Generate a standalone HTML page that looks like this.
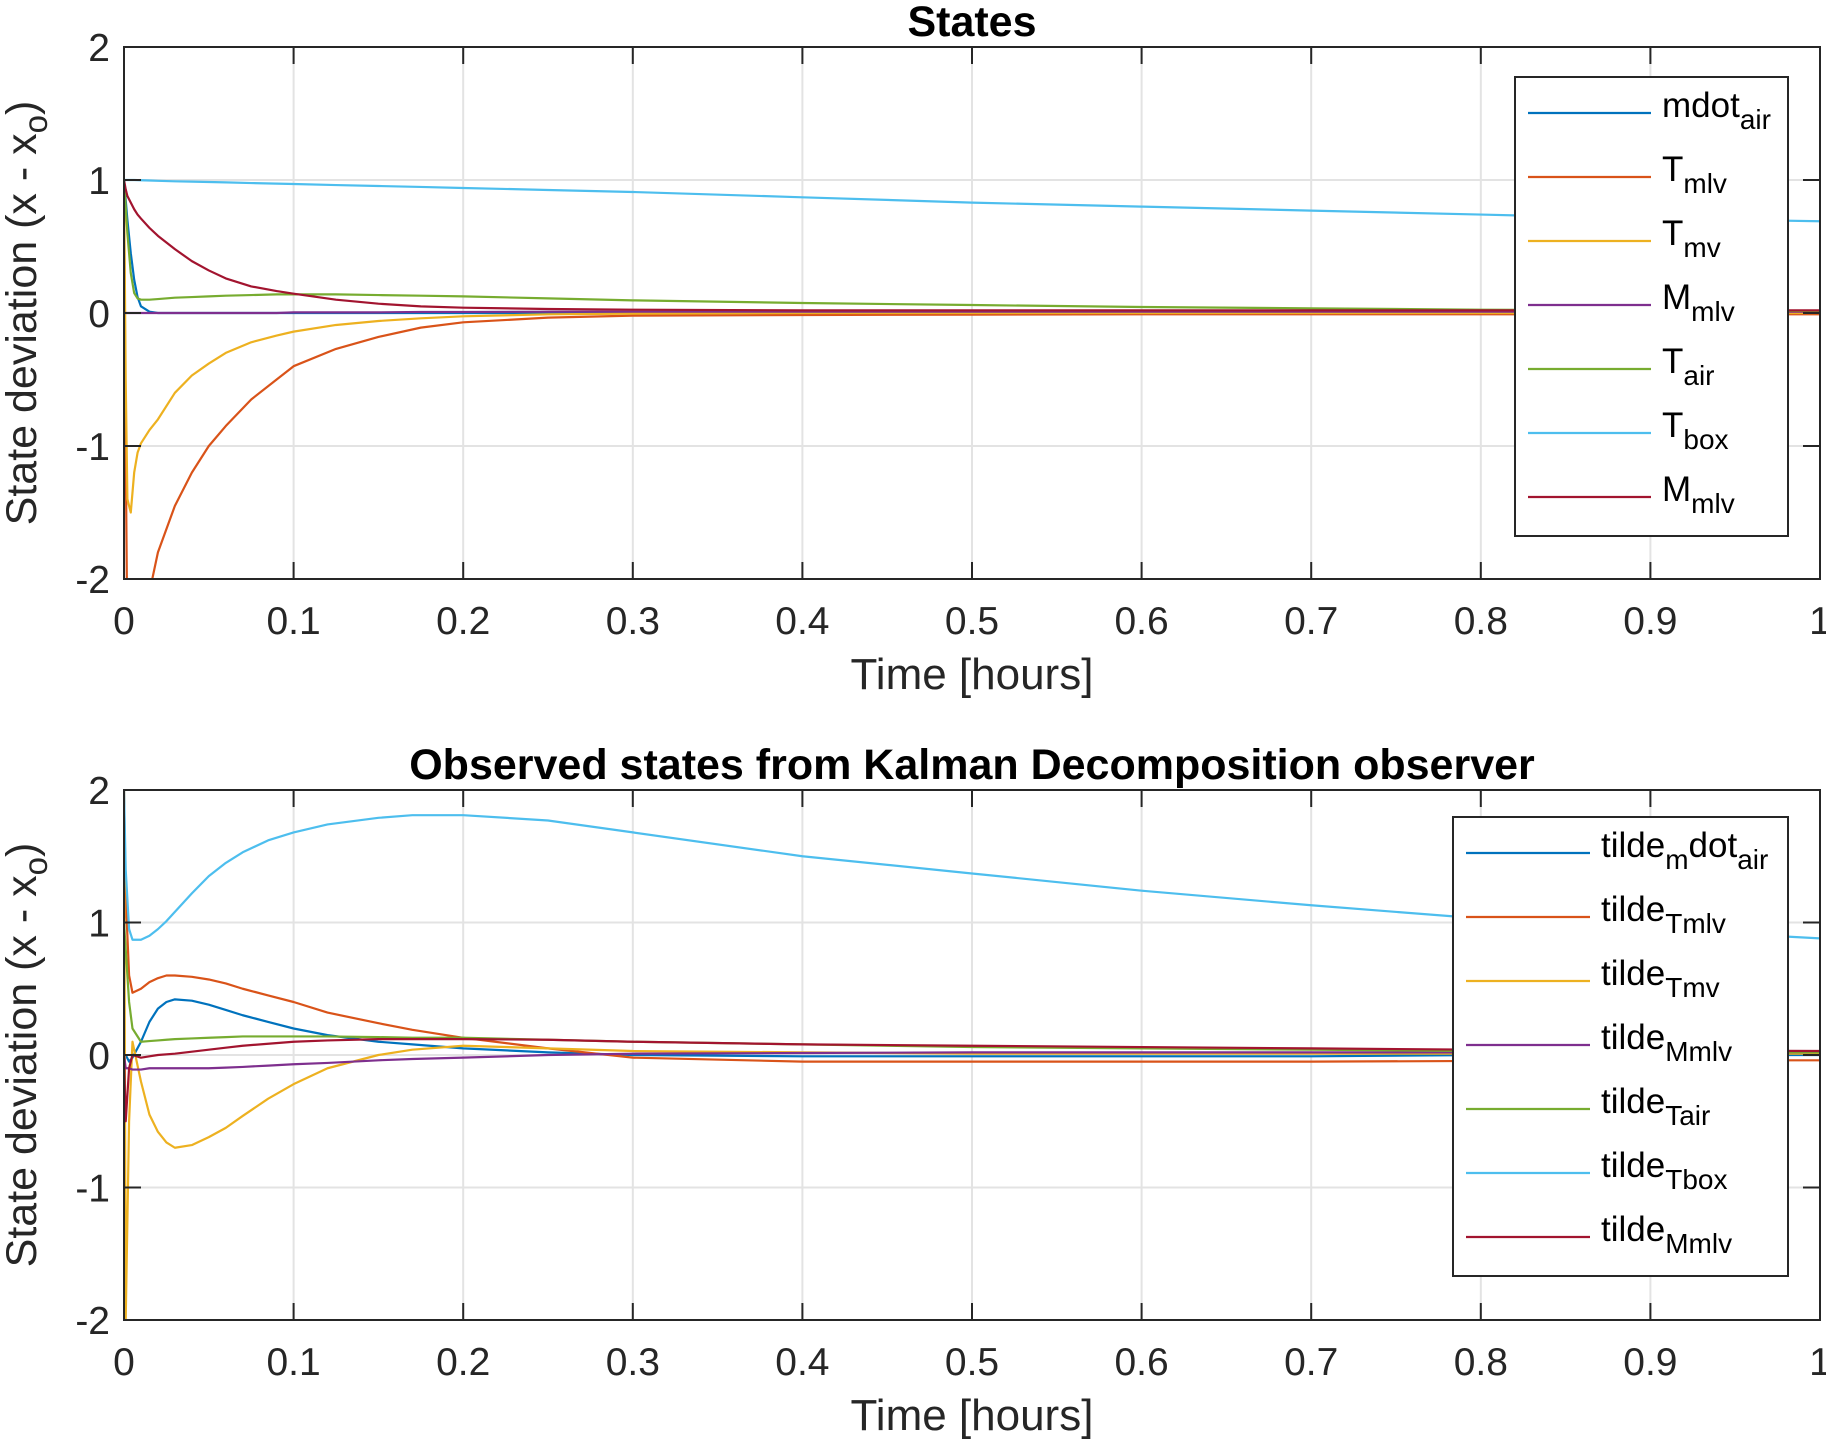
<!DOCTYPE html>
<html><head><meta charset="utf-8"><style>
html,body{margin:0;padding:0;background:#fff}
svg{display:block;font-family:"Liberation Sans",Arial,sans-serif}
</style></head><body>
<svg id="fig" width="1826" height="1442" viewBox="0 0 1826 1442" xmlns="http://www.w3.org/2000/svg">
<defs>
<clipPath id="clip1"><rect x="124" y="47" width="1696" height="532"/></clipPath>
<clipPath id="clip2"><rect x="124" y="790" width="1696" height="530"/></clipPath>
</defs>
</svg>
<script>
// ---------- data ----------
const xTicks = [0,0.1,0.2,0.3,0.4,0.5,0.6,0.7,0.8,0.9,1];
const xTickLabels = ["0","0.1","0.2","0.3","0.4","0.5","0.6","0.7","0.8","0.9","1"];
const yTicks = [-2,-1,0,1,2];
const yTickLabels = ["-2","-1","0","1","2"];
const colors = ["#0072BD","#D95319","#EDB120","#7E2F8E","#77AC30","#4DBEEE","#A2142F"];

// top plot: States
const tTop = [0,0.001,0.002,0.004,0.006,0.008,0.01,0.015,0.02,0.03,0.04,0.05,0.06,0.075,0.09,0.1,0.125,0.15,0.175,0.2,0.25,0.3,0.4,0.5,0.6,0.7,0.8,0.9,1.0];
const topMdot = [1,0.85,0.7,0.45,0.25,0.12,0.05,0.01,0,0,0,0,0,0,0,0,0,0,0,0,0,0,0,0,0,0,0,0,0];
const topTmlv = [1,-1,-2.5,-3,-3,-2.9,-2.7,-2.1,-1.8,-1.45,-1.2,-1.0,-0.85,-0.65,-0.5,-0.4,-0.27,-0.18,-0.11,-0.07,-0.035,-0.02,-0.015,-0.012,-0.01,-0.01,-0.01,-0.01,-0.01];
const topTmv  = [1,-0.5,-1.4,-1.5,-1.2,-1.05,-0.98,-0.88,-0.8,-0.6,-0.47,-0.38,-0.3,-0.22,-0.17,-0.14,-0.09,-0.06,-0.04,-0.025,-0.01,-0.005,0,0,0,0,0,0,0];
const topMmlv = [0,0,0,0,0,0,0,0,0,0,0,0,0,0,0,0.005,0.005,0.005,0.008,0.008,0.01,0.01,0.01,0.01,0.01,0.01,0.01,0.01,0.01];
const topTair = [1,0.8,0.6,0.3,0.15,0.11,0.1,0.1,0.105,0.115,0.12,0.125,0.13,0.135,0.14,0.14,0.14,0.135,0.13,0.125,0.11,0.095,0.075,0.06,0.045,0.035,0.025,0.02,0.015];
const topTbox = [1,1,1,1,1,0.999,0.998,0.996,0.994,0.99,0.988,0.985,0.982,0.977,0.973,0.97,0.962,0.955,0.948,0.94,0.925,0.91,0.87,0.83,0.8,0.77,0.74,0.71,0.69];
const topMmlv2= [1,0.93,0.88,0.83,0.78,0.74,0.71,0.64,0.58,0.48,0.39,0.32,0.26,0.2,0.165,0.145,0.1,0.07,0.05,0.04,0.03,0.025,0.02,0.02,0.02,0.02,0.02,0.02,0.02];

// bottom plot: observer
const tBot = [0,0.001,0.003,0.005,0.01,0.015,0.02,0.025,0.03,0.04,0.05,0.06,0.07,0.085,0.1,0.12,0.15,0.17,0.2,0.25,0.3,0.4,0.5,0.6,0.7,0.8,0.9,1.0];
const botMdot = [0,0,-0.05,-0.02,0.1,0.25,0.35,0.4,0.42,0.41,0.38,0.34,0.3,0.25,0.2,0.15,0.1,0.08,0.05,0.02,0,-0.01,-0.01,-0.01,-0.01,0,0,0];
const botTmlv = [2,1.2,0.6,0.47,0.5,0.55,0.58,0.6,0.6,0.59,0.57,0.54,0.5,0.45,0.4,0.32,0.24,0.19,0.13,0.05,-0.02,-0.05,-0.05,-0.05,-0.05,-0.045,-0.04,-0.04];
const botTmv  = [2,-2,-0.5,0.1,-0.2,-0.45,-0.58,-0.66,-0.7,-0.68,-0.62,-0.55,-0.46,-0.33,-0.22,-0.1,0,0.04,0.07,0.05,0.03,0.02,0.01,0.01,0.01,0.01,0.01,0.01];
const botMmlv = [0,-0.1,-0.1,-0.11,-0.11,-0.1,-0.1,-0.1,-0.1,-0.1,-0.1,-0.095,-0.09,-0.08,-0.07,-0.06,-0.04,-0.03,-0.02,0,0.01,0.015,0.02,0.02,0.02,0.02,0.02,0.02];
const botTair = [1,0.8,0.4,0.2,0.1,0.105,0.11,0.115,0.12,0.125,0.13,0.135,0.14,0.14,0.14,0.14,0.135,0.13,0.13,0.115,0.1,0.08,0.06,0.05,0.04,0.03,0.025,0.02];
const botTbox = [2,1.4,0.95,0.87,0.87,0.9,0.95,1.01,1.08,1.22,1.35,1.45,1.53,1.62,1.68,1.74,1.79,1.81,1.81,1.77,1.68,1.5,1.37,1.24,1.13,1.03,0.95,0.88];
const botMmlv2= [0,-0.5,-0.1,0,-0.02,-0.01,0,0.005,0.01,0.025,0.04,0.055,0.07,0.085,0.1,0.11,0.12,0.12,0.12,0.115,0.1,0.08,0.07,0.06,0.05,0.04,0.035,0.03];

const topSeries = [topMdot,topTmlv,topTmv,topMmlv,topTair,topTbox,topMmlv2];
const botSeries = [botMdot,botTmlv,botTmv,botMmlv,botTair,botTbox,botMmlv2];
const topNames = [["mdot","air"],["T","mlv"],["T","mv"],["M","mlv"],["T","air"],["T","box"],["M","mlv"]];
const botNames = [["tilde","m","dot","air"],["tilde","Tmlv"],["tilde","Tmv"],["tilde","Mmlv"],["tilde","Tair"],["tilde","Tbox"],["tilde","Mmlv"]];

// ---------- drawing ----------
const NS="http://www.w3.org/2000/svg";
const svg=document.getElementById('fig');
function mk(tag,attrs,parent){const e=document.createElementNS(NS,tag);for(const k in attrs)e.setAttribute(k,attrs[k]);(parent||svg).appendChild(e);return e;}

function drawAxes(cfg){
  const L=124,R=1820,T=cfg.top,B=cfg.bottom;
  const xs=v=>L+(v-0)/(1-0)*(R-L);
  const ys=v=>B-(v+2)/4*(B-T);
  const g=mk('g',{});
  
  
  mk('rect',{x:L,y:T,width:R-L,height:B-T,fill:'#fff'},g);
  xTicks.forEach(v=>{const l=mk('line',{x1:xs(v),x2:xs(v),y1:T,y2:B,stroke:'#e3e3e3','stroke-width':2},g);});
  yTicks.forEach(v=>{const l=mk('line',{x1:L,x2:R,y1:ys(v),y2:ys(v),stroke:'#e3e3e3','stroke-width':2},g);});
  const sg=mk('g',{'clip-path':'url('+cfg.clip+')'},g);
  cfg.series.forEach((s,i)=>{
    const d=s.map((v,j)=>(j?'L':'M')+xs(cfg.t[j]).toFixed(2)+' '+ys(v).toFixed(2)).join(' ');
    const p=mk('path',{d:d,fill:'none',stroke:colors[i],'stroke-width':2.2,'stroke-linejoin':'round'},sg);
    
    
  });
  mk('rect',{x:L,y:T,width:R-L,height:B-T,fill:'none',stroke:'#262626','stroke-width':2},g);
  xTicks.forEach((v,i)=>{
    mk('line',{x1:xs(v),x2:xs(v),y1:B,y2:B-17,stroke:'#262626','stroke-width':2},g);
    mk('line',{x1:xs(v),x2:xs(v),y1:T,y2:T+17,stroke:'#262626','stroke-width':2},g);
    const t=mk('text',{x:xs(v),y:B+55,'text-anchor':'middle','font-size':39,fill:'#262626'},g);
    t.textContent=xTickLabels[i];
    
    
  });
  yTicks.forEach((v,i)=>{
    mk('line',{x1:L,x2:L+17,y1:ys(v),y2:ys(v),stroke:'#262626','stroke-width':2},g);
    mk('line',{x1:R,x2:R-17,y1:ys(v),y2:ys(v),stroke:'#262626','stroke-width':2},g);
    const t=mk('text',{x:L-14,y:ys(v)+14,'text-anchor':'end','font-size':39,fill:'#262626'},g);
    t.textContent=yTickLabels[i];
    
    
  });
  const tt=mk('text',{x:(L+R)/2,y:T-11,'text-anchor':'middle','font-size':43,'font-weight':'bold',fill:'#000'},g);
  tt.textContent=cfg.title;
  
  
  const xl=mk('text',{x:(L+R)/2,y:B+110,'text-anchor':'middle','font-size':44,fill:'#262626'},g);
  xl.textContent='Time [hours]';
  
  
  const cy=(T+B)/2;
  const yl=mk('text',{x:0,y:0,'text-anchor':'middle','font-size':43,fill:'#262626',transform:'translate(36,'+cy+') rotate(-90)'},g);
  
  
  yl.appendChild(document.createTextNode('State deviation (x - x'));
  const sub=mk('tspan',{dy:11,'font-size':33},yl);sub.textContent='o';
  const cl=mk('tspan',{dy:-11},yl);cl.textContent=')';
  const lg=cfg.legend;
  const lgG=mk('g',{},g);
  
  
  mk('rect',{x:lg.x,y:lg.y,width:lg.w,height:lg.h,fill:'#fff',stroke:'#262626','stroke-width':2},lgG);
  cfg.names.forEach((nm,i)=>{
    const ry=lg.y+36+i*64;
    const e=mk('g',{},lgG);
    
    
    mk('line',{x1:lg.lx1,x2:lg.lx2,y1:ry,y2:ry,stroke:colors[i],'stroke-width':2.2},e);
    const tx=mk('text',{x:lg.tx,y:ry+4,'font-size':35,fill:'#000'},e);
    for(let k=0;k<nm.length;k++){
      const sp=mk('tspan',{},tx);
      if(k%2===1){sp.setAttribute('dy',12);sp.setAttribute('font-size',28);}
      else if(k>0){sp.setAttribute('dy',-12);}
      sp.textContent=nm[k];
    }
  });
}

drawAxes({name:'states-plot',top:47,bottom:579,clip:'#clip1',t:tTop,series:topSeries,names:topNames,title:'States',
  legend:{x:1515,y:77,w:273,h:459,lx1:1528,lx2:1651,tx:1662}});
drawAxes({name:'observed-states-plot',top:790,bottom:1320,clip:'#clip2',t:tBot,series:botSeries,names:botNames,title:'Observed states from Kalman Decomposition observer',
  legend:{x:1453,y:817,w:335,h:459,lx1:1466,lx2:1590,tx:1601}});
</script>
</body></html>
